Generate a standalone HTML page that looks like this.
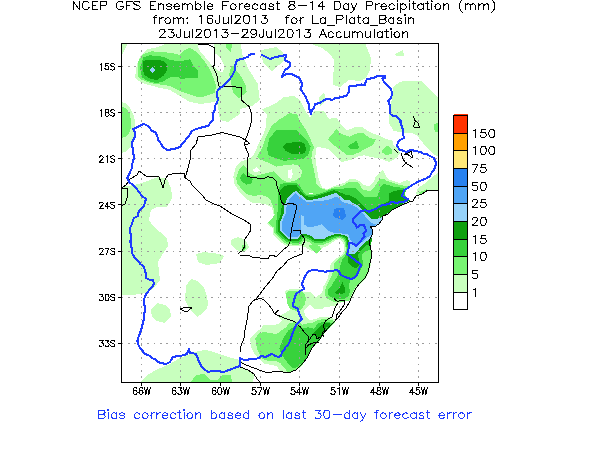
<!DOCTYPE html><html><head><meta charset="utf-8"><title>NCEP GFS Ensemble Forecast 8-14 Day Precipitation</title><style>html,body{margin:0;padding:0;background:#fff;font-family:"Liberation Sans",sans-serif}svg{display:block}</style></head><body>
<svg width="600" height="450" viewBox="0 0 600 450">
<rect width="600" height="450" fill="#fff"/>
<defs><clipPath id="mc"><rect x="121.5" y="43.5" width="317.0" height="339.0"/></clipPath></defs>
<g clip-path="url(#mc)" shape-rendering="crispEdges">
<path fill="#c8ffbe" fill-rule="evenodd" d="M121 43L121 54L122.5 54L125 49L128 43ZM190 102L200 104L214 102L216 100L218 106L220 120L228 122L240 114L240 109L252 106L260 100L259 96L258 84L249 70L242 54L241 43L214 43L215 53.3L220 57.3L224 64.7L223.3 72.7L219.3 71.3L216 68.7L212 65.3L205.3 57.3L198.7 49.3L197.3 43L168 43L158 47L148 49L141 55L137 64L135 78L142 83L160 88L170 90L180 96ZM135 134L135.5 124L134 116L130 108L125 103L121 102L121 153L125 152L130 148L133 142ZM160 280L159 272L158 262L162 255L168 246L167 238L160 232L153 226L149 220L151 210L157 207L167 207L172.4 198L171 188L167 179L158 177L150 180L140 183.6L129 186L121 187L121 295L132 295L146 293L154 288ZM249 247L247 243L243 239L238 237L231 240L231 245L234 248L240 252L245 251ZM220 254L204 252L196 254L198 262L206 265L220 263L224 256ZM202 314L207 308L208 304L207 296L204 288L198 281L191 279L186 286L185 300L189 308L197 317ZM170 310L165 305L157 303L151 310L152 317L157 321L165 323L171 316ZM240 360L232 358L222 355L214 352L206 350L198 351L190 354L180 358L170 364L156 370L146 376L140 383L253 383L254 375L250 369L244 364ZM396 55.6L404 56L403 50L395 54ZM283 52L276 47L261 50L261 56L264 64L272 71L285 60ZM340 87L349 80L360 81L366 78L370 70L371 58L365 43L309 43L322 48L330 54L334 60L333 85ZM320 106L326 100L324 92L319 98ZM393.3 130.7L402.7 132.7L413 133.3L418.7 136.7L420 140L423 143L427 148L433.7 153.9L434.7 154.7L436 155.4L439 156.6L439 99L436 96L429 88L421 80.7L404 80.7L400 82L393 87L392 98.7L390 106.7L388.7 114.7L389 122.7ZM416 194L419 196L422 194.5L428 191L439 191L439 171.8L435 175L430 179L424 184L418 188ZM285.9 245.5L286.6 245.8L287.3 245.9L288.1 246L293.2 246.3L293.3 246.3L293.4 246.3L297.1 246.5L299 245.5L305 247L310.1 250.4L313 251L316 254L317 253.7L319 251L322 249L324.1 246.9L324.7 246.8L325.4 246.6L326.1 246.3L326.5 246.1L331 243.5L335 240.5L339 239L342 241L344 245L344.5 250L342 255L340.5 255.8L340 256.3L339.4 256.5L335 259L331 263L329.5 270L328.3 275.6L328 278L325 284L323 287.3L323 290L321 294L316 297L313 295L310 292L304 292L300 289L290 289L285 291L286 296L287 302L290 308L290 310L283.3 314L278 316.7L282 320.7L279.3 323.3L274 325.3L263.3 325.3L260.7 328.7L254 334L250 338.7L251.3 347.3L254.7 354L259.3 359.3L263.3 363.3L270 364.7L276.7 366L279.3 370L283 373L288 374L295 371L299 368L303 364L306 360L309 355L312 349L316 344L320 340L324 335L328 329L333 324L336.4 320.6L336 320L332 318L328 317L320 317L316 319L310 320L306 317L304 311L307 307L310 305L315 309L322 309L324 307L330 306.5L335 306L338 303L343 302L350.9 300.2L353 296L357 289L361 284L366 278L369 272L371 264L372 254L371.2 247.4L371.4 247.2L375.1 244.8L375.7 244.4L376.2 243.9L376.7 243.4L377.1 242.8L377.5 242.2L379.5 238.7L379.8 238.2L380 237.6L381.5 233.6L381.8 232.9L381.9 232.2L382 231.7L382.2 231.7L382.8 231.4L383.5 231.1L384.1 230.8L384.7 230.3L385.3 229.8L385.8 229.3L386.2 228.7L386.6 228.1L386.9 227.5L388.3 224.2L388.8 223.1L390 222.3L394.9 219.4L395.5 219L396.1 218.5L396.6 218L397.1 217.4L397.5 216.8L397.8 216.1L398.1 215.4L398.3 214.6L398.4 213.9L398.5 213.1L398.5 212.4L398.4 211.6L398.2 210.9L397.9 210.2L397.6 209.5L397.2 208.8L397 208.5L398 208L402 206L409 203L406.7 203L405.3 193.3L406 188L410.7 186.7L411 186.2L411 186L409.4 181.1L406.7 180L400 183L393 181L388 179L385 174L383 170L380 172L376 176L374 182L369 186L363 185L359 181L355 179L349 179.5L344 183L336 185.3L326.7 189.3L322 187.3L318.7 179.3L316.7 167.3L315.3 156.7L316.7 146.7L326.7 148.7L330 150L334.7 155.3L341.3 162L350.7 160L357.3 156.7L364 155.3L372 157.3L378.7 158L389.3 162L397.3 157.3L400 152.7L397.3 148L393.3 145.3L392.3 140.4L392 140L388.7 140L380 136L369.3 132L362.7 127.3L356 126.7L346.7 130.7L340 123.3L336.7 118L328.7 118.7L324 110.7L314.7 110.7L310 117.3L306.7 113.3L300 100L294 96L284 97L274.7 104L262 109.3L266.7 114.7L266 126.7L262.7 136L257.3 146.7L256 150L253.3 155.3L248.7 159.3L241.3 161.3L236 166L233.3 176.7L234.7 184.7L240 192.7L246.7 199.3L252 202.7L260 203.3L266.7 204.7L272 207.3L273.3 213.7L274.5 215.8L273.3 218.5L266.7 223.7L272.5 228.1L272.5 231L272.5 231.7L272.6 232.5L272.8 233.2L273.1 233.9L273.4 234.5L273.8 235.2L274.2 235.8L274.7 236.3L278.7 240.3L279.4 240.9L283.9 244.4L284.5 244.9L285.2 245.2ZM414 200L413.8 199L413.1 200.5Z"/>
<path fill="#78f573" fill-rule="evenodd" d="M226 47.3L230.7 52L232.7 43L226 43ZM210 69.3L204.7 61.3L196.7 52L190 48L186 49.3L179.3 54.7L170 52.7L151.3 51.3L143.3 54L138 61.3L138 77L140 79L150 83L160 84.5L170 86L180 91L188 94L197 97L204 96.5L215 93L216 85ZM229.3 74.7L231.3 84L233.3 93.3L238.7 98.7L246.7 92L245.3 84L240 74.7L236 70.7L233.3 65.3L230 69.3ZM128.5 134L131 128L131 120L129.5 113L126 108L121 106.5L121 138L125 137ZM248.7 159.3L249.7 158.4L246 160L246 160ZM246 245L241.5 245.5L243 251.5L246.5 248ZM299 368L303 364L306 360L309 355L312 349L316 344L320 340L324 335L328 330L333 325L336 322L332 320L324.7 318.7L318 320L312.7 322.7L307.3 323.3L302 324.7L299.3 321.3L295.3 322L288.7 323.3L286 327.3L282 330L276.7 334L263.3 332L258 334L255.3 338.7L256.7 347.3L258.7 352.7L262 358.7L268.7 361.3L276.7 361.3L280.7 363.3L283.3 367.3L286 370L288 374L295 371ZM222 375L218 380L210 380L204 374L196 375L190 383L232 383L231 375ZM439 122.7L434 124L434.7 132L439 132.7ZM357.3 133.3L349.3 136.7L340 133.3L336.7 128.7L328 139.3L331.3 143.3L338.7 148.7L346.7 154.7L351.3 155.3L358.7 152.7L364 149.3L372.7 145.3L376 139.3L369.3 138L364 133.3ZM386.7 155.3L392.7 153.3L391.3 148L386.7 145.3L381.3 152ZM426.7 189.3L418.7 192.7L421.3 194L429.3 191.3ZM285.3 165L293.3 164.4L298.7 165.7L302 171.3L300.7 177.3L293.3 181.3L286.7 181.8L281.3 179.3L277.3 174.7L273.3 171.3L268 172.7L260 174.7L254.7 176L248.7 172.7L246.7 168.7L243.3 164.7L238.7 170L236 178L237.3 183.3L242 190L248 194.7L254.7 196L260 194.7L266.7 196.7L270.7 200.7L273.3 207L274.7 215L268 223L274.3 228L274.3 231L274.3 231.6L274.4 232.1L274.5 232.7L274.7 233.2L275 233.7L275.3 234.2L275.6 234.6L276 235L280 239L280.5 239.5L285 243L285.5 243.3L286 243.6L286.5 243.8L287.1 244L287.6 244.1L288.2 244.2L291.6 244.4L293.3 245L294.8 244.5L297.7 244.7L298.2 244.7L298.8 244.6L299 244.6L299 244.2L300 244.3L300.3 244.2L300.8 244L301.2 243.7L301.7 243.4L302.1 243L302.4 242.6L302.7 242.2L304 240.3L304 240.3L310.3 242.6L311.6 243.6L312 243.9L312.5 244.1L312.6 244.2L308 246L314 252L317.1 253.5L319 251L320.9 249.7L320 246L315.6 244.8L318.1 244.9L321.1 245.6L325 244L330 242L334 239.5L339 237.5L343 239.5L345 243L346 250L344 255L338 259L335.6 261.7L334.5 263L334.2 267.5L334.2 267.5L334 270L333.3 271.6L333.3 271.6L331 277L327 285L325 290L325 294L325.4 294.7L325.3 295.3L326.1 296.3L327.5 299L333 301.5L334.1 301.5L335.3 302L343 302L349.2 300.6L350.7 297L353.3 291.7L355.1 287.2L356 286L358 284L361 281L365 278L367 273L369.5 268L370.5 260L371 250L371.4 245L374.1 243.3L374.5 243L375 242.6L375.3 242.2L375.7 241.8L375.9 241.3L377.9 237.8L378.2 237.4L378.3 237L379.8 233L380 232.5L380.1 231.9L380.2 231.3L380.2 230.8L380.2 230.4L381.6 230L382.2 229.8L382.7 229.5L383.1 229.3L383.6 228.9L384 228.6L384.4 228.2L384.7 227.7L385 227.2L385.2 226.7L386.7 223.4L387.4 221.9L389 220.8L393.9 217.9L394.4 217.6L394.9 217.2L395.3 216.8L395.6 216.3L395.9 215.9L396.2 215.3L396.4 214.8L396.6 214.3L396.7 213.7L396.7 213.1L396.7 212.5L396.6 212L396.5 211.4L396.3 210.9L396 210.3L395.7 209.8L395.4 209.3L398 208L402 206L406 202L405 196L405.4 193.8L405.3 193.3L406 188L408.8 187.2L409 187L406 186L400 185L393 183L387 181L383 178.5L380 179L377 183L374 188L370 191L363 190L360 185L357 182L349 182L344 185L340 186.5L336 186.7L328.2 189.5L326.6 190L322 188.7L316.7 184.7L315.3 176.7L313.3 167.3L311.3 158L312.7 150L314.7 148L312.7 144L305.3 128.7L299.3 120L297.3 114L289.3 113.3L278.7 120L271.3 126L265.3 138.7L262 148L257.3 156L256.1 156.3L257.3 156.7L261.3 160L268.7 162.7L276 166.7ZM287 303L290 309L296 311L302 309L305 304L306 298L304 293L300 290.5L290 290.5L286 293Z"/>
<path fill="#ffffff" fill-rule="evenodd" d="M256 172.7L260 170.7L256.7 167.3L252 170ZM291.3 178.7L292.7 174L292 169.3L288 170L288 178ZM312.7 194L312.7 192.5L308.7 192.5L308.7 194Z"/>
<path fill="#37d23c" fill-rule="evenodd" d="M163.3 81.3L170 77.3L177.3 76.7L180.7 78.7L198 78L198 70.7L194 66.7L190 59.3L179.3 61.3L170 60L163.3 56.7L150 55.3L143.3 57.3L140 68L142 77.3L147.3 80.7L156.7 83.3ZM356.7 140.7L348 146L350 148.7L356 149.3L359.3 148ZM274.7 158L284 160.7L293.3 160L304 158.5L308 155.3L309.5 151L310.7 146.7L306.7 140L300 133.3L296 130L276 130L269.3 138.7L267 149L268.7 155.3ZM252.7 178.7L248 176.7L243.3 173.3L240 177.3L241.3 181.3L246.7 184.7L252 183.3ZM276.2 231.4L276.3 231.7L276.4 232.1L276.5 232.5L276.6 232.8L276.8 233.1L277.1 233.4L277.3 233.7L281.3 237.7L281.7 238L286.2 241.5L286.5 241.7L286.8 241.9L287.2 242.1L287.5 242.2L287.9 242.3L288.3 242.3L297.8 242.8L298.2 242.8L298.5 242.8L298.9 242.7L299 242.7L299 242.5L299.7 242.4L299.9 242.3L300.2 242.1L300.4 241.9L300.7 241.7L300.9 241.4L301.2 241.1L303.3 237.8L304.7 237.5L309.1 239.3L312.7 242L313 242.2L313.3 242.4L313.7 242.6L314 242.7L314.4 242.8L314.8 242.8L320.8 243.2L322 243L327.9 241L330.5 239.5L331.7 239.2L334 238L339 236.5L344 238.5L346 242L347 251L345.3 255.2L345 256L342 260L340.5 265L339 272L337 277L335 280L332 285L328 289L327.8 289L327.5 293L330 297L336 299L344 299L348 297L350 292L349 286L350 280L352 279L355 277.5L359 273L361 269L363 265L362.5 260L362 254L366.7 250.7L371 250L371 243L373.1 241.7L373.4 241.5L373.6 241.2L373.9 241L374.1 240.7L374.3 240.4L376.3 236.9L376.4 236.6L376.6 236.3L378.1 232.3L378.2 232L378.3 231.6L378.3 231.2L378.3 230.8L378.3 230.5L378.2 230.1L378.1 229.7L377.9 229.4L377.8 229.1L381.1 228.1L381.4 228L381.8 227.9L382.1 227.7L382.4 227.5L382.7 227.2L382.9 226.9L383.1 226.6L383.3 226.3L383.5 226L384.9 222.6L385.9 220.6L388 219.2L393 216.3L393.3 216L393.6 215.8L393.8 215.5L394.1 215.2L394.3 214.9L394.5 214.6L394.6 214.2L394.7 213.8L394.8 213.5L394.8 213.1L394.8 212.7L394.7 212.3L394.6 211.9L394.5 211.6L394.4 211.2L394.2 210.9L393.5 210L397 208L403 203L410 201L408 199L405 196L406 189L400 187.5L393 186.5L388 185L383 184L381 186L379 192L377 197L370 197.5L364 197L360 192L356 188.5L346 188L340 189.5L334 188.5L327 191L320 193.5L314 195L309 195.5L306 194.4L304.1 192.7L301 188L296 183L285 183L280 184L278 195L278.5 205L277 215L276.4 220.7L276.4 220.8L276.3 221.2L276.2 221.6L276.2 222L276.2 223L276 225L276.2 227.8L276.2 231ZM372.6 214.8L371.5 213.8L381.2 212.9L379.3 214.1L376.5 215.1ZM243 247L243.5 250L245 248.5L245 246.5ZM297 367L301 364L305 360L308 356L311 350L314 345L318 340L322 336L326 331L330 327.3L332 323.3L328.7 322L323.3 322L318 323.3L314 328.7L308.7 327.3L302 328L299.3 325.3L295.3 326L288.7 330L283.3 338L279.3 348.7L282 355.3L286 360.7L290 366L294 368.7Z"/>
<path fill="#0fa00f" fill-rule="evenodd" d="M150 78.7L156.7 80L163.3 76L166.7 70.7L166.7 64L163.3 60.7L147.3 59.5L143.3 61L142.7 68L144 74.7ZM305.3 152.5L306 148L304 142.7L296 142L286 143.3L282.7 146.7L285.3 150.7L290.7 153.5L300 154.5ZM403 207.5L403 202.5L410 201L408 199L402 196L404 190.7L400 190L393.3 191.3L389.3 193.5L389 195L389 201L385 203L378 206L370 211.5L366 209L361 204L356 198.5L350 195.5L345 194.5L340 192.5L334 190L327 192.5L320 195L314 196.5L309 197L304 195L300 190L296 184.5L290 185L284 186L280 190L281 197L282 205L280.5 215L279.6 218L278.2 221.2L278.1 221.4L278 221.6L278 221.8L278 222L278 223L278 231L278 232L278.3 232L278.3 232.1L278.5 232.3L278.6 232.4L282.6 236.4L282.8 236.6L287.3 240.1L287.4 240.2L287.6 240.3L287.8 240.4L288 240.4L288.2 240.5L288.4 240.5L297.9 241L298.1 241L298.3 241L298.5 240.9L298.6 240.9L298.8 240.8L299 240.7L299.1 240.6L299.3 240.5L299.4 240.4L299.6 240.3L299.7 240.1L302.2 236.3L304.8 235.6L310 237.8L313.8 240.6L314 240.7L314.1 240.8L314.3 240.9L314.5 240.9L314.7 241L314.9 241L322.9 241.5L323 241.5L324.9 240.7L329.8 237.8L333.6 236.7L334 236.5L340 235.5L345 237.5L345.4 238.2L346.2 238.7L346.4 240L347 241L348 248L349 254L347.5 258L348 263L352 267L356 268L359.5 265L359 260L358 255.3L360 252L362.7 248.7L366.7 245.3L370.5 244L370.8 241L372.1 240.2L372.2 240.1L372.4 239.9L372.5 239.8L372.6 239.7L372.7 239.5L374.7 236L374.8 235.8L374.9 235.7L376.4 231.7L376.4 231.5L376.5 231.3L376.5 231.1L376.5 230.9L376.5 230.7L376.4 230.5L376.4 230.3L376.3 230.1L376.2 230L376.1 229.8L374.8 228.1L375.5 227.9L375.6 227.9L380.6 226.4L380.8 226.4L380.9 226.3L381.1 226.2L381.3 226.1L381.4 225.9L381.5 225.8L381.7 225.6L381.8 225.5L381.8 225.3L383.3 221.8L384.6 219.4L387.1 217.7L392 214.7L392.2 214.6L392.4 214.5L392.5 214.3L392.6 214.2L392.7 214L392.8 213.8L392.9 213.6L393 213.4L393 213.2L393 213L393 212.8L393 212.6L392.9 212.4L392.9 212.2L392.8 212.1L392.7 211.9L391.7 210.5L397 207.5ZM342.5 282L339 289L334 293L340 294.5L345 293L344.5 287ZM323.5 332.7L326 327.5L330 326L330 323.5L326 323.3L322 324.7L317 329.5L312.7 333.5L315 336L318 337L322 337Z"/>
<path fill="#96d2fa" fill-rule="evenodd" d="M152 73L155 70L152 67L149 70ZM284 235L288.5 238.5L298 239L301 234.5L305 233.5L311 236L315 239L323 239.5L329 236L334 234.5L339 234L345 235.5L348 237.5L349 243L349 254.3L354 254L357.3 251.3L358.7 249.3L362.7 245.3L366.7 241.3L371 238.5L373 235L374.5 231L373 229L371 227L375 226L380 224.5L381.5 221L383 218L386 216L391 213L390 211.5L385 215L381 217.5L377 219L371 218.5L365 213L362 210L357 205L352 202.5L350 200L345 200L340 196L336 193L328 195.5L320 198L310 200L306 199.5L301 195L296 190.5L291 194L287 199L284.5 205L283.5 214L280 222L280 231Z"/>
<path fill="#50a5f5" fill-rule="evenodd" d="M281.5 230L281.5 223L285.5 214L286.5 207L287.5 204L290 198L295 193L300 197L306 201.5L313 201.5L320 201.3L327 200L332 198.5L336 196.5L340 199L342 202L346 203L352 205L356 207L361 212L365 216L369 220.5L372 223L376 224.5L375 226L371 227L373 229L374.5 231L373 235L370 235.3L366.7 238L362 242L357.3 246.7L356.3 247L353 243L350 239L348 234L342 233.5L335 233L328 231L322 224L317 226L314 226.5L307 226.5L303.5 224L303.5 216L300.5 215L301 229L300.5 234L298 237L289 237L285 234Z"/>
<path fill="#2882f0" fill-rule="evenodd" d="M334 209.7L337.3 207.7L344 208.3L346 216.3L343 220L336 218L333 216Z"/>
<path fill="#ffffff" fill-rule="evenodd" d="M441 190L428 190L422 194L416 196L413 201L409 202L402 205L398 207L392 210L388 214L383 216L382 220L379 224L374 227L371 226.5L373 230L372 238L371 246L372 254L371 264L369 272L366 278L361 283L357 288L353 296L349 304L347 308L343 312L339 318L335 322L329 328L324 334L321 339L317 343L313 348L310 354L308 358L305 362L301 366L297 370L288 373.5L283 372.5L276 371.5L268 373.5L262 371.5L254 368.5L246 365.5L241 363L241 367.5L248 370.5L254 374.5L257 379.5L259 384L441 384Z"/>
</g>
<path d="M141.5 43.5V382.5M180.5 43.5V382.5M220.5 43.5V382.5M260.5 43.5V382.5M299.5 43.5V382.5M339.5 43.5V382.5M379.5 43.5V382.5M418.5 43.5V382.5M121.5 66.5H438.5M121.5 112.5H438.5M121.5 158.5H438.5M121.5 204.5H438.5M121.5 251.5H438.5M121.5 297.5H438.5M121.5 343.5H438.5" stroke="#9c9c9c" stroke-width="1" stroke-dasharray="1.7 4.7" fill="none" shape-rendering="crispEdges"/>
<g clip-path="url(#mc)" shape-rendering="crispEdges"><path d="M198 44L208.7 44.7L214.7 48L214.7 64.7L212.7 66.7L216.7 74.7L218.7 86L241.3 87.3L241.3 100L249.3 106.7L252 114.7L250.7 125.3L248 133.3L245.3 140L249.3 143.3L244.7 145.3L245.3 140L244.7 145.3L248 153.3L248 156.7L247.3 176.7L253.3 177.3L260 178.7L264.7 178L267.3 176.7L272.7 178L276 181.3L277.3 187.3L280 195.3L281.3 201.7L284.7 205L288 203.7L292.7 203.7L296 205L296 209.7L294 217.7L292 227L290.7 235L290 241.7L288 246.3L284 249L280 253L276 257L273 255L270 255L268 259L260 258L252 257L248 255L240 255M292.7 230.3L300 230.3L300.7 233.7L304 237.7L304.7 241L302.7 245L302 254L294 257L288 260L283 266L277 271L272 279L266 286L260 294L256 299L253 301L249 306L247 320L245 330L244 338L241 346L240 352M244 220L250 224L251 230L248 235L244 240L245 246L242 251L240 252L238 254M253 301L260 298L264 300L268 304L272 309L274.7 314L278.7 310M274.7 314L286 318.7L294 321.3L300.7 327.3L304.7 332.7L308.7 336.7L308.7 340.7L305.3 345.3L305.3 348.7L306 352.7L304.7 355.3M305.3 348.7L308.7 344.7L314 342.7L319.3 342M308.7 340.7L312.7 334.7L315.3 334L316.7 338.7L322 336.7M334 298.7L337.3 301.3L343.3 300L344.7 300.7L344 304.7L341.3 309.3L336.7 314.7L336.7 318.7L334 322L331.5 324.5M338 302.7L335.3 307.3L333.3 312.7L332 317.3L328.7 318.7L325.3 321.3L323.3 325.3L324.7 330L322.7 332.7L323.3 336.7M240 362L246 365L254 368L262 371L268 373L276 371L283 372L288 373L296 370L300 366L304 362L307 358L309 354L312 348L316 343L320 339L323 334L328 328L334 322L338 318L342 312L346 308L349 303L352 296L356 288L360 283L365 278L368 272L370.3 262L371.3 258L371.3 251.3L369.7 244L370 238.7L372 235.3L372.7 232L372 229L370 226L374 227L379 224L382 220L383 216L388 214L392 210L398 207L402 205L409 202L413 201L416 196L422 194L428 190L438 190M240 367L248 370L254 374L257 379L260 382M180 309L186 307L192 307.6L187 311.6L184 311L180 309M245.3 140L240 137L222 132.4L212 135L198 137L196 144L191 150L190 160L188 168L186 175L185 178L190 181L192 185L197 190L202 195L206 200L214 204L220 206L226 210L232 214L240 218L244 220M185 178L184 173L176 173L168 175L165 180L163 188L161 182L159 177L146 176L139 171L137 175L130 179L126 185L122 188M122 188L127 188L128 192L127 198L125 204L121 206M394 149.3L398 153.3M401.3 153.3L402.7 158.7L406 163.3L412.7 167.3M402 166.7L407.3 162M404 154.7L411.3 151.3L412.7 158L408 154.7L404 154.7M413.3 116L414.7 120L418.7 124L419.3 127.3L416 128L413.3 126.7L415.3 121.3L413.3 116" stroke="#000" stroke-width="1" fill="none" stroke-linejoin="round"/>
<path d="M262 55L266 57L270 59L272.9 57.8L276 57L281 56L286 55L285 60L290 63L290 66L287.8 68.4L285 70L283.3 73.4L282 77L286 74L290.1 73.9L294 75L299 78L302 83L301.5 86.5L301 90L304 94L305.7 96.9L307 100L308.6 103.8L309 108L310 111L311 114L311.9 110.7L314 108L315 104L320 103L322.9 100.9L326 99L329.1 98.9L332 100L334.8 98.5L338 98L342 96.9L346 96L349 92L349.5 86.5L353.8 86.2L358 85L361.5 84.5L365 85L365.6 81.9L367 79L370 78.7L373 78L378 76L381.5 76.4L385 75.5L385 78L382.5 78.5L384 82L387 85.5L391 88.5L392 93.5L391 98.5L388 100.5L390 105.5L389.9 109.5L390 113.5L392 115.5L396 116L398.3 117.9L400.5 120L400.6 123.6L402 127L403.1 130.4L403 134L404 138L400.7 139.6L398 142L397 146L400 150L403.1 150.7L406 152L411 150L416 151L420.2 152L424 154L427.2 154.5L430 156L434 158L436 163L435.3 166.6L434 170L431.6 172.8L430 176L426.2 178.4L422 180L417.9 181.9L414 184L410.9 185.8L408 188L404 190L403.2 193.1L402 196L405 197.6L408 199L406 201L403.1 202.2L400 202.3L396 203L392 201.7L388 204.3L382.7 205L378.7 207L376.3 208.9L373.3 209.7L369.3 211.7L365.3 210.3L361.3 211L357.3 214.3L355.6 216.9L353.3 219L352.7 222.3L356 225L356.7 227.7L360 225L364 225L365.3 228.3L366 231L363.3 233.7L364.7 236.3L361.3 240.3L358.7 243.7L356 246.3L353.3 243.7L349.3 243L348.7 248.3L347.8 251.2L347.3 254.3L352 257.7L356 261L358.7 262.9L361.3 265L359.3 268.3L358 273L354.7 277.7L351.3 279L348.2 278.2L345.3 277L340.7 275L338.7 271L336 269.7L332.7 271L329 271.2L325.3 271.7L322.2 271.2L319 270.8L316 270L312.4 270.1L309 271L306.3 274.3L304 278L303.3 281.1L302 284L304 289L300 291L296 294L294.9 297L294 300L293.5 303L293 306L298 309L299 314L302 319L298 323L295.5 326.2L294 330L292.2 333.9L291 338L289.8 341.6L288 345L285.5 346.9L284.4 350L282 352L281 356L278 357L274.9 355.6L272 354L268.8 355.2L266 357L261 356L259 358L256.1 358.8L253 358.7L250 359L247.1 360.1L244 360L240 358L240.5 362L240 366L235.9 367.3L232 369L227.9 370.2L224 372L220 371.4L216 371L211.9 371L208 372L204 369L201.8 366.7L200 364L198 359L196 354L193 353.2L190 353L189 349L187 354L184 355L180 356L176.5 356.4L173 357L170 362L166 364L163 363.4L160 363L157.3 361.4L154.9 359.3L152 358L149.7 355.8L146.6 354.7L144 353L142.2 350.4L140 348L138 344L137.4 341L138 338L139.8 334.1L141 330L142.2 326L143 322L144.2 318.1L144 314L144.9 311.1L145 308L144.2 304L144 300L145 296L147.4 292.4L150 289L152.2 286.6L154 284L153 280L149.3 279.6L146 278L146 274L144.9 270.5L144 267L140.7 264.3L138 261L135.1 258.3L133 255L131.7 252.1L132 248.9L131 246L130.5 242.7L130.6 239.3L131 236L130.3 232L130 228L132 224.2L133 220L134 218L138 216L138.4 212.8L140 210L144 206L144.9 202.5L146 199L142 196L139 192L137.1 189.5L135 187L132.8 184.6L130 183L127 178L128.9 175.2L130 172L131.5 169.2L132 166L132.7 161.9L134 158L133.4 154L133 150L132.3 146L132 142L134 139.2L135 136L135.1 132.9L134 130L133 129L138 127L140.8 125.1L144 124L147.3 125.6L150 128L151 130L156 133L157.4 136.4L158 140L160.8 143.3L163 147L167 150L170.5 149.5L174 149L177 148.1L180 147L182.2 143.8L185 141L186.5 138.1L189 136L192 131L196 129L200 128L204 126.9L208 126L210.4 122.9L213 120L213.1 117L213 114L214.6 110.2L215 106L216.7 103.1L218 100L217.3 96L217.3 91.3L220 88L224 85.3L228 81.3L230 78.7L232 76L234.7 70.7L235.2 67.7L235.3 64.7L237.3 60L242.7 58.7L248 56.7L249.3 54.7L254 54" stroke="#1e3cff" stroke-width="2.1" fill="none" stroke-linejoin="round" stroke-linecap="round"/></g>
<path d="M121.5 43.5H438.5V382.5H121.5ZM141.5 382.5v3.5M180.5 382.5v3.5M220.5 382.5v3.5M260.5 382.5v3.5M299.5 382.5v3.5M339.5 382.5v3.5M379.5 382.5v3.5M418.5 382.5v3.5M121.5 66.5h-3.5M121.5 112.5h-3.5M121.5 158.5h-3.5M121.5 204.5h-3.5M121.5 251.5h-3.5M121.5 297.5h-3.5M121.5 343.5h-3.5" stroke="#000" stroke-width="1" fill="none" shape-rendering="crispEdges"/>
<path d="M100.2 64.8L100.8 64.5L101.6 63.6L101.6 70M105.1 68.8L105.3 69.4L105.6 69.7L106.5 70L107.3 70L108.2 69.7L108.8 69.1L109 68.2L109 67.6L108.8 66.6L108.2 66L107.3 65.7L106.5 65.7L105.6 66L105.3 66.3L105.6 63.6L108.5 63.6M110.8 69.1L111.3 69.7L112.2 70L113.3 70L114.2 69.7L114.7 69.1L114.7 68.2L114.5 67.6L114.2 67.3L113.6 67L111.9 66.3L111.3 66L111 65.7L110.8 65.1L110.8 64.5L111.3 63.9L112.2 63.6L113.3 63.6L114.2 63.9L114.7 64.5M100.2 110.9L100.8 110.6L101.6 109.7L101.6 116.1M105.1 114L105.3 113.4L105.9 112.8L106.8 112.5L107.9 112.2L108.5 111.9L108.8 111.2L108.8 110.6L108.5 110L107.6 109.7L106.5 109.7L105.6 110L105.3 110.6L105.3 111.2L105.6 111.9L106.2 112.2L107.3 112.5L108.2 112.8L108.8 113.4L109 114L109 114.9L108.8 115.5L108.5 115.8L107.6 116.1L106.5 116.1L105.6 115.8L105.3 115.5L105.1 114.9L105.1 114M110.8 115.2L111.3 115.8L112.2 116.1L113.3 116.1L114.2 115.8L114.7 115.2L114.7 114.3L114.5 113.7L114.2 113.4L113.6 113.1L111.9 112.5L111.3 112.2L111 111.9L110.8 111.2L110.8 110.6L111.3 110L112.2 109.7L113.3 109.7L114.2 110L114.7 110.6M99.6 157.4L99.6 157.1L99.9 156.5L100.2 156.2L100.8 155.9L101.9 155.9L102.5 156.2L102.8 156.5L103.1 157.1L103.1 157.7L102.8 158.3L102.2 159.2L99.4 162.3L103.3 162.3M105.9 157.1L106.5 156.8L107.3 155.9L107.3 162.3M110.8 161.3L111.3 162L112.2 162.3L113.3 162.3L114.2 162L114.7 161.3L114.7 160.4L114.5 159.8L114.2 159.5L113.6 159.2L111.9 158.6L111.3 158.3L111 158L110.8 157.4L110.8 156.8L111.3 156.2L112.2 155.9L113.3 155.9L114.2 156.2L114.7 156.8M99.6 203.5L99.6 203.2L99.9 202.6L100.2 202.3L100.8 202L101.9 202L102.5 202.3L102.8 202.6L103.1 203.2L103.1 203.8L102.8 204.4L102.2 205.3L99.4 208.4L103.3 208.4M107.9 208.4L107.9 202L105.1 206.3L109.3 206.3M110.8 207.5L111.3 208.1L112.2 208.4L113.3 208.4L114.2 208.1L114.7 207.5L114.7 206.6L114.5 206L114.2 205.6L113.6 205.3L111.9 204.7L111.3 204.4L111 204.1L110.8 203.5L110.8 202.9L111.3 202.3L112.2 202L113.3 202L114.2 202.3L114.7 202.9M99.6 249.6L99.6 249.3L99.9 248.7L100.2 248.4L100.8 248.1L101.9 248.1L102.5 248.4L102.8 248.7L103.1 249.3L103.1 249.9L102.8 250.6L102.2 251.5L99.4 254.5L103.3 254.5M105.1 248.1L109 248.1L106.2 254.5M110.8 253.6L111.3 254.2L112.2 254.5L113.3 254.5L114.2 254.2L114.7 253.6L114.7 252.7L114.5 252.1L114.2 251.8L113.6 251.5L111.9 250.9L111.3 250.6L111 250.2L110.8 249.6L110.8 249L111.3 248.4L112.2 248.1L113.3 248.1L114.2 248.4L114.7 249M99.4 299.4L99.6 300L99.9 300.3L100.8 300.6L101.6 300.6L102.5 300.3L103.1 299.7L103.3 298.8L103.3 298.2L103.1 297.3L102.8 297L102.2 296.7L101.3 296.7L103.1 294.2L99.9 294.2M105.1 297L105.1 297.9L105.3 299.4L105.9 300.3L106.8 300.6L107.3 300.6L108.2 300.3L108.8 299.4L109 297.9L109 297L108.8 295.5L108.2 294.5L107.3 294.2L106.8 294.2L105.9 294.5L105.3 295.5L105.1 297M110.8 299.7L111.3 300.3L112.2 300.6L113.3 300.6L114.2 300.3L114.7 299.7L114.7 298.8L114.5 298.2L114.2 297.9L113.6 297.6L111.9 297L111.3 296.7L111 296.4L110.8 295.8L110.8 295.2L111.3 294.5L112.2 294.2L113.3 294.2L114.2 294.5L114.7 295.2M99.4 345.6L99.6 346.2L99.9 346.5L100.8 346.8L101.6 346.8L102.5 346.5L103.1 345.9L103.3 345L103.3 344.3L103.1 343.4L102.8 343.1L102.2 342.8L101.3 342.8L103.1 340.4L99.9 340.4M105.1 345.6L105.3 346.2L105.6 346.5L106.5 346.8L107.3 346.8L108.2 346.5L108.8 345.9L109 345L109 344.3L108.8 343.4L108.5 343.1L107.9 342.8L107 342.8L108.8 340.4L105.6 340.4M110.8 345.9L111.3 346.5L112.2 346.8L113.3 346.8L114.2 346.5L114.7 345.9L114.7 345L114.5 344.3L114.2 344L113.6 343.7L111.9 343.1L111.3 342.8L111 342.5L110.8 341.9L110.8 341.3L111.3 340.7L112.2 340.4L113.3 340.4L114.2 340.7L114.7 341.3M133.2 392.2L133.2 390.5L133.5 388.8L134.1 387.8L135 387.5L135.6 387.5L136.5 387.8L136.8 388.5M133.2 392.2L133.5 391.1L134.1 390.5L135 390.1L135.3 390.1L136.2 390.5L136.8 391.1L137.1 392.2L137.1 392.5L136.8 393.5L136.2 394.2L135.3 394.5L135 394.5L134.1 394.2L133.5 393.5L133.2 392.2M139.1 392.2L139.1 390.5L139.4 388.8L140 387.8L140.9 387.5L141.5 387.5L142.4 387.8L142.7 388.5M139.1 392.2L139.4 391.1L140 390.5L140.9 390.1L141.2 390.1L142.1 390.5L142.7 391.1L143 392.2L143 392.5L142.7 393.5L142.1 394.2L141.2 394.5L140.9 394.5L140 394.2L139.4 393.5L139.1 392.2M144.5 387.5L145.9 394.5L147.4 387.5L148.9 394.5L150.4 387.5M172.2 392.2L172.2 390.5L172.5 388.8L173.1 387.8L174 387.5L174.6 387.5L175.5 387.8L175.8 388.5M172.2 392.2L172.5 391.1L173.1 390.5L174 390.1L174.3 390.1L175.2 390.5L175.8 391.1L176.1 392.2L176.1 392.5L175.8 393.5L175.2 394.2L174.3 394.5L174 394.5L173.1 394.2L172.5 393.5L172.2 392.2M177.8 393.2L178.1 393.8L178.4 394.2L179.3 394.5L180.2 394.5L181.1 394.2L181.7 393.5L182 392.5L182 391.8L181.7 390.8L181.4 390.5L180.8 390.1L179.9 390.1L181.7 387.5L178.4 387.5M183.5 387.5L184.9 394.5L186.4 387.5L187.9 394.5L189.4 387.5M212.2 392.2L212.2 390.5L212.5 388.8L213.1 387.8L214 387.5L214.6 387.5L215.5 387.8L215.8 388.5M212.2 392.2L212.5 391.1L213.1 390.5L214 390.1L214.3 390.1L215.2 390.5L215.8 391.1L216.1 392.2L216.1 392.5L215.8 393.5L215.2 394.2L214.3 394.5L214 394.5L213.1 394.2L212.5 393.5L212.2 392.2M217.8 390.5L217.8 391.5L218.1 393.2L218.7 394.2L219.6 394.5L220.2 394.5L221.1 394.2L221.7 393.2L222 391.5L222 390.5L221.7 388.8L221.1 387.8L220.2 387.5L219.6 387.5L218.7 387.8L218.1 388.8L217.8 390.5M223.5 387.5L224.9 394.5L226.4 387.5L227.9 394.5L229.4 387.5M251.9 393.2L252.2 393.8L252.5 394.2L253.4 394.5L254.3 394.5L255.2 394.2L255.8 393.5L256.1 392.5L256.1 391.8L255.8 390.8L255.2 390.1L254.3 389.8L253.4 389.8L252.5 390.1L252.2 390.5L252.5 387.5L255.5 387.5M257.8 387.5L262 387.5L259 394.5M263.4 387.5L264.9 394.5L266.4 387.5L267.9 394.5L269.3 387.5M290.9 393.2L291.2 393.8L291.5 394.2L292.4 394.5L293.3 394.5L294.2 394.2L294.8 393.5L295.1 392.5L295.1 391.8L294.8 390.8L294.2 390.1L293.3 389.8L292.4 389.8L291.5 390.1L291.2 390.5L291.5 387.5L294.5 387.5M299.8 394.5L299.8 387.5L296.8 392.2L301.3 392.2M302.4 387.5L303.9 394.5L305.4 387.5L306.9 394.5L308.3 387.5M330.9 393.2L331.2 393.8L331.5 394.2L332.4 394.5L333.3 394.5L334.2 394.2L334.8 393.5L335.1 392.5L335.1 391.8L334.8 390.8L334.2 390.1L333.3 389.8L332.4 389.8L331.5 390.1L331.2 390.5L331.5 387.5L334.5 387.5M337.7 388.8L338.3 388.5L339.2 387.5L339.2 394.5M342.4 387.5L343.9 394.5L345.4 387.5L346.9 394.5L348.3 387.5M373.9 394.5L373.9 387.5L370.9 392.2L375.4 392.2M376.8 392.2L377.1 391.5L377.7 390.8L378.6 390.5L379.8 390.1L380.4 389.8L380.7 389.1L380.7 388.5L380.4 387.8L379.5 387.5L378.3 387.5L377.4 387.8L377.1 388.5L377.1 389.1L377.4 389.8L378 390.1L379.2 390.5L380.1 390.8L380.7 391.5L381 392.2L381 393.2L380.7 393.8L380.4 394.2L379.5 394.5L378.3 394.5L377.4 394.2L377.1 393.8L376.8 393.2L376.8 392.2M382.4 387.5L383.9 394.5L385.4 387.5L386.9 394.5L388.3 387.5M412.9 394.5L412.9 387.5L409.9 392.2L414.4 392.2M415.8 393.2L416.1 393.8L416.4 394.2L417.3 394.5L418.2 394.5L419.1 394.2L419.7 393.5L420 392.5L420 391.8L419.7 390.8L419.1 390.1L418.2 389.8L417.3 389.8L416.4 390.1L416.1 390.5L416.4 387.5L419.4 387.5M421.4 387.5L422.9 394.5L424.4 387.5L425.9 394.5L427.3 387.5M73.1 9.5L73.1 1.1L79.3 9.5L79.3 1.1M89 3.1L88.6 2.3L87.7 1.5L86.8 1.1L85 1.1L84.1 1.5L83.3 2.3L82.8 3.1L82.4 4.3L82.4 6.3L82.8 7.5L83.3 8.3L84.1 9.1L85 9.5L86.8 9.5L87.7 9.1L88.6 8.3L89 7.5M92.1 5.1L92.1 9.5L97.9 9.5M92.1 5.1L95.7 5.1M92.1 5.1L92.1 1.1L97.9 1.1M100.5 5.5L100.5 9.5M100.5 5.5L104.5 5.5L105.9 5.1L106.3 4.7L106.7 3.9L106.7 2.7L106.3 1.9L105.9 1.5L104.5 1.1L100.5 1.1L100.5 5.5M120.9 6.3L123.1 6.3L123.1 7.5L122.7 8.3L121.8 9.1L120.9 9.5L119.1 9.5L118.3 9.1L117.4 8.3L116.9 7.5L116.5 6.3L116.5 4.3L116.9 3.1L117.4 2.3L118.3 1.5L119.1 1.1L120.9 1.1L121.8 1.5L122.7 2.3L123.1 3.1M126.2 5.1L126.2 9.5M126.2 5.1L129.8 5.1M126.2 5.1L126.2 1.1L132 1.1M133.8 8.3L134.7 9.1L136 9.5L137.8 9.5L139.1 9.1L140 8.3L140 7.1L139.5 6.3L139.1 5.9L138.2 5.5L135.5 4.7L134.7 4.3L134.2 3.9L133.8 3.1L133.8 2.3L134.7 1.5L136 1.1L137.8 1.1L139.1 1.5L140 2.3M150.2 5.1L150.2 9.5L155.9 9.5M150.2 5.1L153.7 5.1M150.2 5.1L150.2 1.1L155.9 1.1M158.6 3.9L158.6 9.5M158.6 5.5L159.9 4.3L160.8 3.9L162.1 3.9L163 4.3L163.4 5.5L163.4 9.5M166.6 8.3L167 9.1L168.3 9.5L169.7 9.5L171 9.1L171.4 8.3L171.4 7.9L171 7.1L170.1 6.7L167.9 6.3L167 5.9L166.6 5.1L167 4.3L168.3 3.9L169.7 3.9L171 4.3L171.4 5.1M174.1 6.3L174.1 7.1L174.5 8.3L175.4 9.1L176.3 9.5L177.6 9.5L178.5 9.1L179.4 8.3M174.1 6.3L179.4 6.3L179.4 5.5L179 4.7L178.5 4.3L177.6 3.9L176.3 3.9L175.4 4.3L174.5 5.1L174.1 6.3M182.5 3.9L182.5 9.5M182.5 5.5L183.8 4.3L184.7 3.9L186 3.9L186.9 4.3L187.4 5.5L187.4 9.5M187.4 5.5L188.7 4.3L189.6 3.9L190.9 3.9L191.8 4.3L192.2 5.5L192.2 9.5M195.8 1.1L195.8 9.5M195.8 5.1L196.7 4.3L197.6 3.9L198.9 3.9L199.8 4.3L200.7 5.1L201.1 6.3L201.1 7.1L200.7 8.3L199.8 9.1L198.9 9.5L197.6 9.5L196.7 9.1L195.8 8.3M204.2 1.1L204.2 9.5M207.3 6.3L207.3 7.1L207.8 8.3L208.6 9.1L209.5 9.5L210.9 9.5L211.7 9.1L212.6 8.3M207.3 6.3L212.6 6.3L212.6 5.5L212.2 4.7L211.7 4.3L210.9 3.9L209.5 3.9L208.6 4.3L207.8 5.1L207.3 6.3M222.8 5.1L222.8 9.5M222.8 5.1L226.4 5.1M222.8 5.1L222.8 1.1L228.6 1.1M230.3 6.3L230.3 7.1L230.8 8.3L231.7 9.1L232.6 9.5L233.9 9.5L234.8 9.1L235.7 8.3L236.1 7.1L236.1 6.3L235.7 5.1L234.8 4.3L233.9 3.9L232.6 3.9L231.7 4.3L230.8 5.1L230.3 6.3M239.2 3.9L239.2 9.5M239.2 6.3L239.6 5.1L240.5 4.3L241.4 3.9L242.8 3.9M244.5 6.3L244.5 7.1L245 8.3L245.9 9.1L246.7 9.5L248.1 9.5L249 9.1L249.8 8.3M244.5 6.3L249.8 6.3L249.8 5.5L249.4 4.7L249 4.3L248.1 3.9L246.7 3.9L245.9 4.3L245 5.1L244.5 6.3M257.8 5.1L256.9 4.3L256 3.9L254.7 3.9L253.8 4.3L252.9 5.1L252.5 6.3L252.5 7.1L252.9 8.3L253.8 9.1L254.7 9.5L256 9.5L256.9 9.1L257.8 8.3M265.8 3.9L265.8 9.5M265.8 5.1L264.9 4.3L264 3.9L262.7 3.9L261.8 4.3L260.9 5.1L260.5 6.3L260.5 7.1L260.9 8.3L261.8 9.1L262.7 9.5L264 9.5L264.9 9.1L265.8 8.3M268.9 8.3L269.3 9.1L270.7 9.5L272 9.5L273.3 9.1L273.8 8.3L273.8 7.9L273.3 7.1L272.4 6.7L270.2 6.3L269.3 5.9L268.9 5.1L269.3 4.3L270.7 3.9L272 3.9L273.3 4.3L273.8 5.1M276 3.9L279.1 3.9M277.3 1.1L277.3 7.9L277.7 9.1L278.6 9.5L279.5 9.5M288.8 6.7L289.3 5.9L290.2 5.1L291.5 4.7L293.3 4.3L294.1 3.9L294.6 3.1L294.6 2.3L294.1 1.5L292.8 1.1L291 1.1L289.7 1.5L289.3 2.3L289.3 3.1L289.7 3.9L290.6 4.3L292.4 4.7L293.7 5.1L294.6 5.9L295 6.7L295 7.9L294.6 8.7L294.1 9.1L292.8 9.5L291 9.5L289.7 9.1L289.3 8.7L288.8 7.9L288.8 6.7M298.1 5.9L306.1 5.9M310.5 2.7L311.4 2.3L312.7 1.1L312.7 9.5M322.5 9.5L322.5 1.1L318.1 6.7L324.7 6.7M334.5 1.1L334.5 9.5L337.6 9.5L338.9 9.1L339.8 8.3L340.2 7.5L340.7 6.3L340.7 4.3L340.2 3.1L339.8 2.3L338.9 1.5L337.6 1.1L334.5 1.1M348.6 3.9L348.6 9.5M348.6 5.1L347.7 4.3L346.9 3.9L345.5 3.9L344.6 4.3L343.8 5.1L343.3 6.3L343.3 7.1L343.8 8.3L344.6 9.1L345.5 9.5L346.9 9.5L347.7 9.1L348.6 8.3M350.8 12.3L351.3 12.3L352.2 11.9L353.1 11.1L354 9.5L356.6 3.9M351.3 3.9L354 9.5M353.5 10.3L355.3 6.7M366.4 5.5L366.4 9.5M366.4 5.5L370.3 5.5L371.7 5.1L372.1 4.7L372.6 3.9L372.6 2.7L372.1 1.9L371.7 1.5L370.3 1.1L366.4 1.1L366.4 5.5M375.7 3.9L375.7 9.5M375.7 6.3L376.1 5.1L377 4.3L377.9 3.9L379.2 3.9M381 6.3L381 7.1L381.4 8.3L382.3 9.1L383.2 9.5L384.5 9.5L385.4 9.1L386.3 8.3M381 6.3L386.3 6.3L386.3 5.5L385.8 4.7L385.4 4.3L384.5 3.9L383.2 3.9L382.3 4.3L381.4 5.1L381 6.3M394.3 5.1L393.4 4.3L392.5 3.9L391.2 3.9L390.3 4.3L389.4 5.1L388.9 6.3L388.9 7.1L389.4 8.3L390.3 9.1L391.2 9.5L392.5 9.5L393.4 9.1L394.3 8.3M397.4 3.9L397.4 9.5M396.9 1.1L397.4 1.5L397.8 1.1L397.4 0.7L396.9 1.1M400.9 3.9L400.9 12.3M400.9 5.1L401.8 4.3L402.7 3.9L404 3.9L404.9 4.3L405.8 5.1L406.2 6.3L406.2 7.1L405.8 8.3L404.9 9.1L404 9.5L402.7 9.5L401.8 9.1L400.9 8.3M409.3 3.9L409.3 9.5M408.9 1.1L409.3 1.5L409.8 1.1L409.3 0.7L408.9 1.1M412 3.9L415.1 3.9M413.3 1.1L413.3 7.9L413.8 9.1L414.6 9.5L415.5 9.5M423.1 3.9L423.1 9.5M423.1 5.1L422.2 4.3L421.3 3.9L420 3.9L419.1 4.3L418.2 5.1L417.7 6.3L417.7 7.1L418.2 8.3L419.1 9.1L420 9.5L421.3 9.5L422.2 9.1L423.1 8.3M425.7 3.9L428.8 3.9M427 1.1L427 7.9L427.5 9.1L428.4 9.5L429.3 9.5M431.9 3.9L431.9 9.5M431.5 1.1L431.9 1.5L432.4 1.1L431.9 0.7L431.5 1.1M435 6.3L435 7.1L435.5 8.3L436.4 9.1L437.2 9.5L438.6 9.5L439.5 9.1L440.3 8.3L440.8 7.1L440.8 6.3L440.3 5.1L439.5 4.3L438.6 3.9L437.2 3.9L436.4 4.3L435.5 5.1L435 6.3M443.9 3.9L443.9 9.5M443.9 5.5L445.2 4.3L446.1 3.9L447.4 3.9L448.3 4.3L448.8 5.5L448.8 9.5M462.5 -0.5L461.6 0.3L460.7 1.5L459.8 3.1L459.4 5.1L459.4 6.7L459.8 8.7L460.7 10.3L461.6 11.5L462.5 12.3M465.6 3.9L465.6 9.5M465.6 5.5L466.9 4.3L467.8 3.9L469.1 3.9L470 4.3L470.5 5.5L470.5 9.5M470.5 5.5L471.8 4.3L472.7 3.9L474 3.9L474.9 4.3L475.3 5.5L475.3 9.5M478.9 3.9L478.9 9.5M478.9 5.5L480.2 4.3L481.1 3.9L482.4 3.9L483.3 4.3L483.8 5.5L483.8 9.5M483.8 5.5L485.1 4.3L486 3.9L487.3 3.9L488.2 4.3L488.6 5.5L488.6 9.5M491.7 -0.5L492.6 0.3L493.5 1.5L494.4 3.1L494.8 5.1L494.8 6.7L494.4 8.7L493.5 10.3L492.6 11.5L491.7 12.3M153.4 17.9L156.5 17.9M154.7 23.5L154.7 16.7L155.2 15.5L156 15.1L156.9 15.1M159.6 17.9L159.6 23.5M159.6 20.3L160 19.1L160.9 18.3L161.8 17.9L163.1 17.9M164.9 20.3L164.9 21.1L165.3 22.3L166.2 23.1L167.1 23.5L168.4 23.5L169.3 23.1L170.2 22.3L170.6 21.1L170.6 20.3L170.2 19.1L169.3 18.3L168.4 17.9L167.1 17.9L166.2 18.3L165.3 19.1L164.9 20.3M173.7 17.9L173.7 23.5M173.7 19.5L175 18.3L175.9 17.9L177.2 17.9L178.1 18.3L178.6 19.5L178.6 23.5M178.6 19.5L179.9 18.3L180.8 17.9L182.1 17.9L183 18.3L183.4 19.5L183.4 23.5M187 18.3L187.4 18.7L187.8 18.3L187.4 17.9L187 18.3M187 23.1L187.4 23.5L187.8 23.1L187.4 22.7L187 23.1M199.3 16.7L200.2 16.3L201.5 15.1L201.5 23.5M207.3 20.7L207.3 18.7L207.7 16.7L208.6 15.5L209.9 15.1L210.8 15.1L212.1 15.5L212.6 16.3M207.3 20.7L207.7 19.5L208.6 18.7L209.9 18.3L210.4 18.3L211.7 18.7L212.6 19.5L213 20.7L213 21.1L212.6 22.3L211.7 23.1L210.4 23.5L209.9 23.5L208.6 23.1L207.7 22.3L207.3 20.7M215.2 20.7L215.2 21.5L215.7 22.7L216.1 23.1L217 23.5L217.9 23.5L218.8 23.1L219.2 22.7L219.6 21.5L219.6 15.1M223.2 17.9L223.2 21.9L223.6 23.1L224.5 23.5L225.8 23.5L226.7 23.1L228 21.9L228 17.9M228 21.9L228 23.5M231.6 15.1L231.6 23.5M235.1 17.1L235.1 16.7L235.5 15.9L236 15.5L236.9 15.1L238.6 15.1L239.5 15.5L240 15.9L240.4 16.7L240.4 17.5L240 18.3L239.1 19.5L234.7 23.5L240.8 23.5M243.5 18.7L243.5 19.9L243.9 21.9L244.8 23.1L246.1 23.5L247 23.5L248.3 23.1L249.2 21.9L249.7 19.9L249.7 18.7L249.2 16.7L248.3 15.5L247 15.1L246.1 15.1L244.8 15.5L243.9 16.7L243.5 18.7M253.6 16.7L254.5 16.3L255.9 15.1L255.9 23.5M261.2 21.9L261.6 22.7L262 23.1L263.4 23.5L264.7 23.5L266 23.1L266.9 22.3L267.3 21.1L267.3 20.3L266.9 19.1L266.5 18.7L265.6 18.3L264.3 18.3L266.9 15.1L262 15.1M285.5 17.9L288.6 17.9M286.8 23.5L286.8 16.7L287.3 15.5L288.1 15.1L289 15.1M291.2 20.3L291.2 21.1L291.7 22.3L292.6 23.1L293.5 23.5L294.8 23.5L295.7 23.1L296.5 22.3L297 21.1L297 20.3L296.5 19.1L295.7 18.3L294.8 17.9L293.5 17.9L292.6 18.3L291.7 19.1L291.2 20.3M300.1 17.9L300.1 23.5M300.1 20.3L300.5 19.1L301.4 18.3L302.3 17.9L303.6 17.9M312.9 15.1L312.9 23.5L318.2 23.5M325.3 17.9L325.3 23.5M325.3 19.1L324.4 18.3L323.5 17.9L322.2 17.9L321.3 18.3L320.4 19.1L320 20.3L320 21.1L320.4 22.3L321.3 23.1L322.2 23.5L323.5 23.5L324.4 23.1L325.3 22.3M327.5 25.1L334.6 25.1M336.8 19.5L336.8 23.5M336.8 19.5L340.8 19.5L342.1 19.1L342.6 18.7L343 17.9L343 16.7L342.6 15.9L342.1 15.5L340.8 15.1L336.8 15.1L336.8 19.5M346.1 15.1L346.1 23.5M354.5 17.9L354.5 23.5M354.5 19.1L353.6 18.3L352.8 17.9L351.4 17.9L350.5 18.3L349.7 19.1L349.2 20.3L349.2 21.1L349.7 22.3L350.5 23.1L351.4 23.5L352.8 23.5L353.6 23.1L354.5 22.3M357.2 17.9L360.3 17.9M358.5 15.1L358.5 21.9L359 23.1L359.8 23.5L360.7 23.5M368.2 17.9L368.2 23.5M368.2 19.1L367.4 18.3L366.5 17.9L365.2 17.9L364.3 18.3L363.4 19.1L362.9 20.3L362.9 21.1L363.4 22.3L364.3 23.1L365.2 23.5L366.5 23.5L367.4 23.1L368.2 22.3M370.5 25.1L377.5 25.1M379.8 19.1L379.8 23.5L383.7 23.5L385.1 23.1L385.5 22.7L386 21.9L386 20.7L385.5 19.9L385.1 19.5L383.7 19.1L379.8 19.1L379.8 15.1L383.7 15.1L385.1 15.5L385.5 15.9L386 16.7L386 17.5L385.5 18.3L385.1 18.7L383.7 19.1M393.9 17.9L393.9 23.5M393.9 19.1L393 18.3L392.1 17.9L390.8 17.9L389.9 18.3L389 19.1L388.6 20.3L388.6 21.1L389 22.3L389.9 23.1L390.8 23.5L392.1 23.5L393 23.1L393.9 22.3M397 22.3L397.5 23.1L398.8 23.5L400.1 23.5L401.4 23.1L401.9 22.3L401.9 21.9L401.4 21.1L400.6 20.7L398.3 20.3L397.5 19.9L397 19.1L397.5 18.3L398.8 17.9L400.1 17.9L401.4 18.3L401.9 19.1M405 17.9L405 23.5M404.5 15.1L405 15.5L405.4 15.1L405 14.7L404.5 15.1M408.5 17.9L408.5 23.5M408.5 19.5L409.9 18.3L410.7 17.9L412.1 17.9L412.9 18.3L413.4 19.5L413.4 23.5M159.7 31.1L159.7 30.7L160.2 29.9L160.6 29.5L161.5 29.1L163.2 29.1L164.1 29.5L164.6 29.9L165 30.7L165 31.5L164.6 32.3L163.7 33.5L159.3 37.5L165.4 37.5M168.1 35.9L168.5 36.7L168.9 37.1L170.2 37.5L171.6 37.5L172.9 37.1L173.7 36.3L174.2 35.1L174.2 34.3L173.7 33.1L173.3 32.7L172.4 32.3L171.1 32.3L173.7 29.1L168.9 29.1M176.4 34.7L176.4 35.5L176.8 36.7L177.2 37.1L178.1 37.5L179 37.5L179.9 37.1L180.3 36.7L180.7 35.5L180.7 29.1M184.2 31.9L184.2 35.9L184.7 37.1L185.5 37.5L186.9 37.5L187.7 37.1L189 35.9L189 31.9M189 35.9L189 37.5M192.5 29.1L192.5 37.5M196 31.1L196 30.7L196.5 29.9L196.9 29.5L197.8 29.1L199.5 29.1L200.4 29.5L200.9 29.9L201.3 30.7L201.3 31.5L200.9 32.3L200 33.5L195.6 37.5L201.7 37.5M204.4 32.7L204.4 33.9L204.8 35.9L205.7 37.1L207 37.5L207.9 37.5L209.2 37.1L210 35.9L210.5 33.9L210.5 32.7L210 30.7L209.2 29.5L207.9 29.1L207 29.1L205.7 29.5L204.8 30.7L204.4 32.7M214.4 30.7L215.3 30.3L216.6 29.1L216.6 37.5M221.8 35.9L222.3 36.7L222.7 37.1L224 37.5L225.3 37.5L226.7 37.1L227.5 36.3L228 35.1L228 34.3L227.5 33.1L227.1 32.7L226.2 32.3L224.9 32.3L227.5 29.1L222.7 29.1M231 33.9L238.9 33.9M242.4 31.1L242.4 30.7L242.8 29.9L243.3 29.5L244.1 29.1L245.9 29.1L246.8 29.5L247.2 29.9L247.6 30.7L247.6 31.5L247.2 32.3L246.3 33.5L242 37.5L248.1 37.5M251.1 36.3L251.6 37.1L252.9 37.5L253.8 37.5L255.1 37.1L256 35.9L256.4 33.9L256.4 31.9L256 30.3L255.1 29.5L253.8 29.1L253.3 29.1L252 29.5L251.1 30.3L250.7 31.5L250.7 31.9L251.1 33.1L252 33.9L253.3 34.3L253.8 34.3L255.1 33.9L256 33.1L256.4 31.9M259 34.7L259 35.5L259.4 36.7L259.9 37.1L260.8 37.5L261.6 37.5L262.5 37.1L262.9 36.7L263.4 35.5L263.4 29.1M266.9 31.9L266.9 35.9L267.3 37.1L268.2 37.5L269.5 37.5L270.4 37.1L271.7 35.9L271.7 31.9M271.7 35.9L271.7 37.5M275.2 29.1L275.2 37.5M278.7 31.1L278.7 30.7L279.1 29.9L279.6 29.5L280.4 29.1L282.2 29.1L283.1 29.5L283.5 29.9L283.9 30.7L283.9 31.5L283.5 32.3L282.6 33.5L278.3 37.5L284.4 37.5M287 32.7L287 33.9L287.4 35.9L288.3 37.1L289.6 37.5L290.5 37.5L291.8 37.1L292.7 35.9L293.1 33.9L293.1 32.7L292.7 30.7L291.8 29.5L290.5 29.1L289.6 29.1L288.3 29.5L287.4 30.7L287 32.7M297.1 30.7L297.9 30.3L299.2 29.1L299.2 37.5M304.5 35.9L304.9 36.7L305.4 37.1L306.7 37.5L308 37.5L309.3 37.1L310.2 36.3L310.6 35.1L310.6 34.3L310.2 33.1L309.7 32.7L308.9 32.3L307.6 32.3L310.2 29.1L305.4 29.1M319.4 37.5L322.9 29.1L326.4 37.5M320.7 34.7L325 34.7M333.4 33.1L332.5 32.3L331.6 31.9L330.3 31.9L329.4 32.3L328.5 33.1L328.1 34.3L328.1 35.1L328.5 36.3L329.4 37.1L330.3 37.5L331.6 37.5L332.5 37.1L333.4 36.3M341.2 33.1L340.3 32.3L339.5 31.9L338.2 31.9L337.3 32.3L336.4 33.1L336 34.3L336 35.1L336.4 36.3L337.3 37.1L338.2 37.5L339.5 37.5L340.3 37.1L341.2 36.3M344.3 31.9L344.3 35.9L344.7 37.1L345.6 37.5L346.9 37.5L347.8 37.1L349.1 35.9L349.1 31.9M349.1 35.9L349.1 37.5M352.6 31.9L352.6 37.5M352.6 33.5L353.9 32.3L354.8 31.9L356.1 31.9L357 32.3L357.4 33.5L357.4 37.5M357.4 33.5L358.7 32.3L359.6 31.9L360.9 31.9L361.8 32.3L362.2 33.5L362.2 37.5M365.7 31.9L365.7 35.9L366.1 37.1L367 37.5L368.3 37.5L369.2 37.1L370.5 35.9L370.5 31.9M370.5 35.9L370.5 37.5M374 29.1L374 37.5M382.3 31.9L382.3 37.5M382.3 33.1L381.5 32.3L380.6 31.9L379.3 31.9L378.4 32.3L377.5 33.1L377.1 34.3L377.1 35.1L377.5 36.3L378.4 37.1L379.3 37.5L380.6 37.5L381.5 37.1L382.3 36.3M384.9 31.9L388 31.9M386.3 29.1L386.3 35.9L386.7 37.1L387.6 37.5L388.4 37.5M391.1 31.9L391.1 37.5M390.6 29.1L391.1 29.5L391.5 29.1L391.1 28.7L390.6 29.1M394.1 34.3L394.1 35.1L394.6 36.3L395.4 37.1L396.3 37.5L397.6 37.5L398.5 37.1L399.4 36.3L399.8 35.1L399.8 34.3L399.4 33.1L398.5 32.3L397.6 31.9L396.3 31.9L395.4 32.3L394.6 33.1L394.1 34.3M402.9 31.9L402.9 37.5M402.9 33.5L404.2 32.3L405.1 31.9L406.4 31.9L407.3 32.3L407.7 33.5L407.7 37.5M473.3 290L474.2 289.6L475.4 288.4L475.4 296.5M472.1 277L472.5 277.7L472.9 278.1L474.2 278.5L475.4 278.5L476.7 278.1L477.5 277.3L477.9 276.2L477.9 275.4L477.5 274.3L476.7 273.5L475.4 273.1L474.2 273.1L472.9 273.5L472.5 273.9L472.9 270.4L477.1 270.4M473.3 254L474.2 253.6L475.4 252.4L475.4 260.5M480.5 255.9L480.5 257L480.9 259L481.7 260.1L483 260.5L483.8 260.5L485.1 260.1L485.9 259L486.3 257L486.3 255.9L485.9 254L485.1 252.8L483.8 252.4L483 252.4L481.7 252.8L480.9 254L480.5 255.9M473.3 237L474.2 236.6L475.4 235.4L475.4 243.5M480.5 242L480.9 242.7L481.3 243.1L482.6 243.5L483.8 243.5L485.1 243.1L485.9 242.3L486.3 241.2L486.3 240.4L485.9 239.3L485.1 238.5L483.8 238.1L482.6 238.1L481.3 238.5L480.9 238.9L481.3 235.4L485.5 235.4M472.5 219.3L472.5 219L472.9 218.2L473.3 217.8L474.2 217.4L475.8 217.4L476.7 217.8L477.1 218.2L477.5 219L477.5 219.7L477.1 220.5L476.3 221.7L472.1 225.5L477.9 225.5M480.5 220.9L480.5 222L480.9 224L481.7 225.1L483 225.5L483.8 225.5L485.1 225.1L485.9 224L486.3 222L486.3 220.9L485.9 219L485.1 217.8L483.8 217.4L483 217.4L481.7 217.8L480.9 219L480.5 220.9M472.5 201.3L472.5 201L472.9 200.2L473.3 199.8L474.2 199.4L475.8 199.4L476.7 199.8L477.1 200.2L477.5 201L477.5 201.7L477.1 202.5L476.3 203.7L472.1 207.5L477.9 207.5M480.5 206L480.9 206.7L481.3 207.1L482.6 207.5L483.8 207.5L485.1 207.1L485.9 206.3L486.3 205.2L486.3 204.4L485.9 203.3L485.1 202.5L483.8 202.1L482.6 202.1L481.3 202.5L480.9 202.9L481.3 199.4L485.5 199.4M472.1 189L472.5 189.7L472.9 190.1L474.2 190.5L475.4 190.5L476.7 190.1L477.5 189.3L477.9 188.2L477.9 187.4L477.5 186.3L476.7 185.5L475.4 185.1L474.2 185.1L472.9 185.5L472.5 185.9L472.9 182.4L477.1 182.4M480.5 185.9L480.5 187L480.9 189L481.7 190.1L483 190.5L483.8 190.5L485.1 190.1L485.9 189L486.3 187L486.3 185.9L485.9 184L485.1 182.8L483.8 182.4L483 182.4L481.7 182.8L480.9 184L480.5 185.9M472.1 164.4L477.9 164.4L473.7 172.5M480.5 171L480.9 171.7L481.3 172.1L482.6 172.5L483.8 172.5L485.1 172.1L485.9 171.3L486.3 170.2L486.3 169.4L485.9 168.3L485.1 167.5L483.8 167.1L482.6 167.1L481.3 167.5L480.9 167.9L481.3 164.4L485.5 164.4M473.3 148L474.2 147.6L475.4 146.4L475.4 154.5M480.5 149.9L480.5 151L480.9 153L481.7 154.1L483 154.5L483.8 154.5L485.1 154.1L485.9 153L486.3 151L486.3 149.9L485.9 148L485.1 146.8L483.8 146.4L483 146.4L481.7 146.8L480.9 148L480.5 149.9M488.9 149.9L488.9 151L489.3 153L490.1 154.1L491.4 154.5L492.2 154.5L493.5 154.1L494.3 153L494.7 151L494.7 149.9L494.3 148L493.5 146.8L492.2 146.4L491.4 146.4L490.1 146.8L489.3 148L488.9 149.9M473.3 131L474.2 130.6L475.4 129.4L475.4 137.5M480.5 136L480.9 136.7L481.3 137.1L482.6 137.5L483.8 137.5L485.1 137.1L485.9 136.3L486.3 135.2L486.3 134.4L485.9 133.3L485.1 132.5L483.8 132.1L482.6 132.1L481.3 132.5L480.9 132.9L481.3 129.4L485.5 129.4M488.9 132.9L488.9 134L489.3 136L490.1 137.1L491.4 137.5L492.2 137.5L493.5 137.1L494.3 136L494.7 134L494.7 132.9L494.3 131L493.5 129.8L492.2 129.4L491.4 129.4L490.1 129.8L489.3 131L488.9 132.9" stroke="#000" stroke-width="1" fill="none" stroke-linecap="square" stroke-linejoin="round" shape-rendering="crispEdges"/>
<path d="M98.8 414.1L98.8 418.5L102.8 418.5L104.1 418.1L104.5 417.7L105 416.9L105 415.7L104.5 414.9L104.1 414.5L102.8 414.1L98.8 414.1L98.8 410.1L102.8 410.1L104.1 410.5L104.5 410.9L105 411.7L105 412.5L104.5 413.3L104.1 413.7L102.8 414.1M108.1 412.9L108.1 418.5M107.6 410.1L108.1 410.5L108.5 410.1L108.1 409.7L107.6 410.1M116.5 412.9L116.5 418.5M116.5 414.1L115.6 413.3L114.7 412.9L113.4 412.9L112.5 413.3L111.6 414.1L111.2 415.3L111.2 416.1L111.6 417.3L112.5 418.1L113.4 418.5L114.7 418.5L115.6 418.1L116.5 417.3M119.6 417.3L120.1 418.1L121.4 418.5L122.7 418.5L124.1 418.1L124.5 417.3L124.5 416.9L124.1 416.1L123.2 415.7L121 415.3L120.1 414.9L119.6 414.1L120.1 413.3L121.4 412.9L122.7 412.9L124.1 413.3L124.5 414.1M139.6 414.1L138.7 413.3L137.8 412.9L136.5 412.9L135.6 413.3L134.7 414.1L134.3 415.3L134.3 416.1L134.7 417.3L135.6 418.1L136.5 418.5L137.8 418.5L138.7 418.1L139.6 417.3M142.3 415.3L142.3 416.1L142.7 417.3L143.6 418.1L144.5 418.5L145.8 418.5L146.7 418.1L147.6 417.3L148 416.1L148 415.3L147.6 414.1L146.7 413.3L145.8 412.9L144.5 412.9L143.6 413.3L142.7 414.1L142.3 415.3M151.1 412.9L151.1 418.5M151.1 415.3L151.6 414.1L152.5 413.3L153.3 412.9L154.7 412.9M156.9 412.9L156.9 418.5M156.9 415.3L157.3 414.1L158.2 413.3L159.1 412.9L160.4 412.9M162.2 415.3L162.2 416.1L162.7 417.3L163.6 418.1L164.4 418.5L165.8 418.5L166.7 418.1L167.5 417.3M162.2 415.3L167.5 415.3L167.5 414.5L167.1 413.7L166.7 413.3L165.8 412.9L164.4 412.9L163.6 413.3L162.7 414.1L162.2 415.3M175.5 414.1L174.6 413.3L173.8 412.9L172.4 412.9L171.5 413.3L170.7 414.1L170.2 415.3L170.2 416.1L170.7 417.3L171.5 418.1L172.4 418.5L173.8 418.5L174.6 418.1L175.5 417.3M177.8 412.9L180.9 412.9M179.1 410.1L179.1 416.9L179.5 418.1L180.4 418.5L181.3 418.5M184 412.9L184 418.5M183.5 410.1L184 410.5L184.4 410.1L184 409.7L183.5 410.1M187.1 415.3L187.1 416.1L187.5 417.3L188.4 418.1L189.3 418.5L190.6 418.5L191.5 418.1L192.4 417.3L192.8 416.1L192.8 415.3L192.4 414.1L191.5 413.3L190.6 412.9L189.3 412.9L188.4 413.3L187.5 414.1L187.1 415.3M195.9 412.9L195.9 418.5M195.9 414.5L197.3 413.3L198.2 412.9L199.5 412.9L200.4 413.3L200.8 414.5L200.8 418.5M211.5 410.1L211.5 418.5M211.5 414.1L212.4 413.3L213.2 412.9L214.6 412.9L215.5 413.3L216.4 414.1L216.8 415.3L216.8 416.1L216.4 417.3L215.5 418.1L214.6 418.5L213.2 418.5L212.4 418.1L211.5 417.3M224.8 412.9L224.8 418.5M224.8 414.1L223.9 413.3L223 412.9L221.7 412.9L220.8 413.3L219.9 414.1L219.5 415.3L219.5 416.1L219.9 417.3L220.8 418.1L221.7 418.5L223 418.5L223.9 418.1L224.8 417.3M227.9 417.3L228.3 418.1L229.7 418.5L231 418.5L232.3 418.1L232.8 417.3L232.8 416.9L232.3 416.1L231.4 415.7L229.2 415.3L228.3 414.9L227.9 414.1L228.3 413.3L229.7 412.9L231 412.9L232.3 413.3L232.8 414.1M235.4 415.3L235.4 416.1L235.9 417.3L236.8 418.1L237.7 418.5L239 418.5L239.9 418.1L240.8 417.3M235.4 415.3L240.8 415.3L240.8 414.5L240.3 413.7L239.9 413.3L239 412.9L237.7 412.9L236.8 413.3L235.9 414.1L235.4 415.3M248.7 410.1L248.7 418.5M248.7 414.1L247.9 413.3L247 412.9L245.6 412.9L244.8 413.3L243.9 414.1L243.4 415.3L243.4 416.1L243.9 417.3L244.8 418.1L245.6 418.5L247 418.5L247.9 418.1L248.7 417.3M259 415.3L259 416.1L259.4 417.3L260.3 418.1L261.2 418.5L262.5 418.5L263.4 418.1L264.3 417.3L264.7 416.1L264.7 415.3L264.3 414.1L263.4 413.3L262.5 412.9L261.2 412.9L260.3 413.3L259.4 414.1L259 415.3M267.8 412.9L267.8 418.5M267.8 414.5L269.2 413.3L270 412.9L271.4 412.9L272.3 413.3L272.7 414.5L272.7 418.5M283.4 410.1L283.4 418.5M291.8 412.9L291.8 418.5M291.8 414.1L290.9 413.3L290 412.9L288.7 412.9L287.8 413.3L286.9 414.1L286.5 415.3L286.5 416.1L286.9 417.3L287.8 418.1L288.7 418.5L290 418.5L290.9 418.1L291.8 417.3M294.9 417.3L295.3 418.1L296.7 418.5L298 418.5L299.3 418.1L299.8 417.3L299.8 416.9L299.3 416.1L298.4 415.7L296.2 415.3L295.3 414.9L294.9 414.1L295.3 413.3L296.7 412.9L298 412.9L299.3 413.3L299.8 414.1M302 412.9L305.1 412.9M303.3 410.1L303.3 416.9L303.8 418.1L304.7 418.5L305.5 418.5M314.9 416.9L315.3 417.7L315.7 418.1L317.1 418.5L318.4 418.5L319.7 418.1L320.6 417.3L321.1 416.1L321.1 415.3L320.6 414.1L320.2 413.7L319.3 413.3L318 413.3L320.6 410.1L315.7 410.1M323.7 413.7L323.7 414.9L324.2 416.9L325.1 418.1L326.4 418.5L327.3 418.5L328.6 418.1L329.5 416.9L329.9 414.9L329.9 413.7L329.5 411.7L328.6 410.5L327.3 410.1L326.4 410.1L325.1 410.5L324.2 411.7L323.7 413.7M333 414.9L341 414.9M349.5 410.1L349.5 418.5M349.5 414.1L348.6 413.3L347.7 412.9L346.4 412.9L345.5 413.3L344.6 414.1L344.1 415.3L344.1 416.1L344.6 417.3L345.5 418.1L346.4 418.5L347.7 418.5L348.6 418.1L349.5 417.3M357.9 412.9L357.9 418.5M357.9 414.1L357 413.3L356.1 412.9L354.8 412.9L353.9 413.3L353 414.1L352.6 415.3L352.6 416.1L353 417.3L353.9 418.1L354.8 418.5L356.1 418.5L357 418.1L357.9 417.3M360.1 421.3L360.6 421.3L361.4 420.9L362.3 420.1L363.2 418.5L365.9 412.9M360.6 412.9L363.2 418.5M362.8 419.3L364.6 415.7M374.8 412.9L377.9 412.9M376.1 418.5L376.1 411.7L376.5 410.5L377.4 410.1L378.3 410.1M380.5 415.3L380.5 416.1L381 417.3L381.9 418.1L382.7 418.5L384.1 418.5L385 418.1L385.8 417.3L386.3 416.1L386.3 415.3L385.8 414.1L385 413.3L384.1 412.9L382.7 412.9L381.9 413.3L381 414.1L380.5 415.3M389.4 412.9L389.4 418.5M389.4 415.3L389.8 414.1L390.7 413.3L391.6 412.9L392.9 412.9M394.7 415.3L394.7 416.1L395.2 417.3L396.1 418.1L396.9 418.5L398.3 418.5L399.2 418.1L400 417.3M394.7 415.3L400 415.3L400 414.5L399.6 413.7L399.2 413.3L398.3 412.9L396.9 412.9L396.1 413.3L395.2 414.1L394.7 415.3M408 414.1L407.1 413.3L406.3 412.9L404.9 412.9L404 413.3L403.2 414.1L402.7 415.3L402.7 416.1L403.2 417.3L404 418.1L404.9 418.5L406.3 418.5L407.1 418.1L408 417.3M416 412.9L416 418.5M416 414.1L415.1 413.3L414.2 412.9L412.9 412.9L412 413.3L411.1 414.1L410.7 415.3L410.7 416.1L411.1 417.3L412 418.1L412.9 418.5L414.2 418.5L415.1 418.1L416 417.3M419.1 417.3L419.6 418.1L420.9 418.5L422.2 418.5L423.6 418.1L424 417.3L424 416.9L423.6 416.1L422.7 415.7L420.5 415.3L419.6 414.9L419.1 414.1L419.6 413.3L420.9 412.9L422.2 412.9L423.6 413.3L424 414.1M426.2 412.9L429.3 412.9M427.6 410.1L427.6 416.9L428 418.1L428.9 418.5L429.8 418.5M439.1 415.3L439.1 416.1L439.5 417.3L440.4 418.1L441.3 418.5L442.6 418.5L443.5 418.1L444.4 417.3M439.1 415.3L444.4 415.3L444.4 414.5L444 413.7L443.5 413.3L442.6 412.9L441.3 412.9L440.4 413.3L439.5 414.1L439.1 415.3M447.5 412.9L447.5 418.5M447.5 415.3L448 414.1L448.9 413.3L449.7 412.9L451.1 412.9M453.3 412.9L453.3 418.5M453.3 415.3L453.7 414.1L454.6 413.3L455.5 412.9L456.8 412.9M458.6 415.3L458.6 416.1L459.1 417.3L459.9 418.1L460.8 418.5L462.2 418.5L463.1 418.1L463.9 417.3L464.4 416.1L464.4 415.3L463.9 414.1L463.1 413.3L462.2 412.9L460.8 412.9L459.9 413.3L459.1 414.1L458.6 415.3M467.5 412.9L467.5 418.5M467.5 415.3L467.9 414.1L468.8 413.3L469.7 412.9L471 412.9" stroke="#1e3cff" stroke-width="1" fill="none" stroke-linecap="square" stroke-linejoin="round" shape-rendering="crispEdges"/>
<rect x="453.5" y="292.5" width="14" height="17" fill="#ffffff" shape-rendering="crispEdges"/>
<rect x="453.5" y="274.5" width="14" height="18" fill="#c8ffbe" shape-rendering="crispEdges"/>
<rect x="453.5" y="256.5" width="14" height="18" fill="#78f573" shape-rendering="crispEdges"/>
<rect x="453.5" y="239.5" width="14" height="17" fill="#37d23c" shape-rendering="crispEdges"/>
<rect x="453.5" y="221.5" width="14" height="18" fill="#0fa00f" shape-rendering="crispEdges"/>
<rect x="453.5" y="203.5" width="14" height="18" fill="#96d2fa" shape-rendering="crispEdges"/>
<rect x="453.5" y="186.5" width="14" height="17" fill="#50a5f5" shape-rendering="crispEdges"/>
<rect x="453.5" y="168.5" width="14" height="18" fill="#2882f0" shape-rendering="crispEdges"/>
<rect x="453.5" y="150.5" width="14" height="18" fill="#ffe878" shape-rendering="crispEdges"/>
<rect x="453.5" y="133.5" width="14" height="17" fill="#ffa000" shape-rendering="crispEdges"/>
<rect x="453.5" y="114" width="14" height="19.5" fill="#ff3200" shape-rendering="crispEdges"/>
<path d="M453.5 115.5V309.5H467.5V115.5ZM453.5 292.5H467.5M453.5 274.5H467.5M453.5 256.5H467.5M453.5 239.5H467.5M453.5 221.5H467.5M453.5 203.5H467.5M453.5 186.5H467.5M453.5 168.5H467.5M453.5 150.5H467.5M453.5 133.5H467.5" stroke="#000" stroke-width="1" fill="none" shape-rendering="crispEdges"/>
</svg></body></html>
